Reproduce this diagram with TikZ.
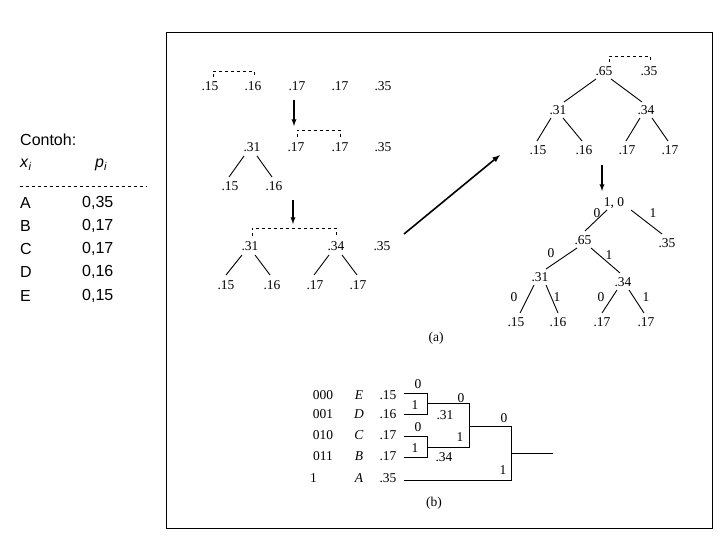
\documentclass[tikz,border=0pt]{standalone}
\usepackage{fontspec}
\setmainfont{Liberation Serif}
\newfontfamily\sans{Liberation Sans}
\begin{document}
\begin{tikzpicture}[x=1pt,y=-1pt,
  num/.style={inner sep=0pt,font=\fontsize{13.5}{13.5}\selectfont},
  sl/.style={font=\fontsize{16}{16}\sans,inner sep=0pt,anchor=west},
  br/.style={dashed,thin},
  ed/.style={line width=0.9pt},
  dn/.style={line width=1.3pt,-latex},
  wire/.style={line width=0.8pt}]
\useasboundingbox (0,0) rectangle (720,540);
\draw[line width=1pt] (166,33) rectangle (712,528);
% left text
\node[sl] (c) at (20,140) {Contoh:};
\node[sl] (xi) at (20,165) {\textit{x}\textsubscript{\textit{i}}};
\node[sl] (pi) at (95,165) {\textit{p}\textsubscript{\textit{i}}};
\draw[dashed] (20,186) -- (147,186);
\foreach \l/\v/\y in {A/{0,35}/203,B/{0,17}/226,C/{0,17}/249,D/{0,16}/272,E/{0,15}/296}{
  \node[sl] at (20,\y) {\l};
  \node[sl] at (82,\y) {\v};
}
% step 1
\node[num] (a1) at (210,86) {.15};
\node[num] (a2) at (253,86) {.16};
\node[num] (a3) at (297,86) {.17};
\node[num] (a4) at (340,86) {.17};
\node[num] (a5) at (383,86) {.35};
\draw[br] (213,77) -- (213,71) -- (254,71) -- (254,77);
\coordinate (r1s) at (294,100); \coordinate (r1e) at (294,126);
\draw[dn] (r1s) -- (r1e);
% step 2
\node[num] (b1) at (252,147) {.31};
\node[num] (b2) at (296,147) {.17};
\node[num] (b3) at (340,147) {.17};
\node[num] (b4) at (383,147) {.35};
\node[num] (b5) at (230,186) {.15};
\node[num] (b6) at (274,186) {.16};
\draw[br] (297,137) -- (297,130) -- (340,130) -- (340,137);
\draw[ed] (244,156) -- (229,177);
\draw[ed] (257,156) -- (272,177);
\draw[dn] (293,200) -- (293,224);
% step 3
\node[num] (c1) at (250,246) {.31};
\node[num] (c2) at (336,246) {.34};
\node[num] (c3) at (382,246) {.35};
\node[num] (c4) at (226,285) {.15};
\node[num] (c5) at (272,285) {.16};
\node[num] (c6) at (315,285) {.17};
\node[num] (c7) at (358,285) {.17};
\draw[br] (252,236) -- (252,228) -- (336,228) -- (336,236);
\draw[ed] (242,255) -- (226,275);
\draw[ed] (255,255) -- (270,275);
\draw[ed] (329,255) -- (314,275);
\draw[ed] (342,255) -- (357,275);
\draw[line width=1.6pt,-latex] (404,234) -- (500,155);
% step 4
\node[num] (d1) at (604,71) {.65};
\node[num] (d2) at (649,71) {.35};
\draw[br] (609,62) -- (609,56) -- (650,56) -- (650,62);
\node[num] (d3) at (558,110) {.31};
\node[num] (d4) at (646,110) {.34};
\foreach \x/\t in {538/.15,584/.16,627/.17,670/.17}{\node[num] at (\x,150) {\t};}
\draw[ed] (596,79) -- (564,102);
\draw[ed] (611,79) -- (642,102);
\draw[ed] (551,118) -- (537,141);
\draw[ed] (563,118) -- (582,141);
\draw[ed] (640,118) -- (626,141);
\draw[ed] (652,118) -- (668,141);
\draw[dn] (602,165) -- (602,191);
% final tree
\node[num] (e0) at (614,203) {1, 0};
\node[num] (e1) at (583,240) {.65};
\node[num] (e2) at (667,243) {.35};
\node[num] (e3) at (540,277) {.31};
\node[num] (e4) at (623,282) {.34};
\foreach \x/\t in {516/.15,558/.16,602/.17,646/.17}{\node[num] at (\x,322) {\t};}
\draw[ed] (607,210) -- (585,231);
\draw[ed] (631,210) -- (662,234);
\draw[ed] (577,248) -- (546,269);
\draw[ed] (591,248) -- (620,273);
\draw[ed] (534,285) -- (520,313);
\draw[ed] (546,285) -- (558,313);
\draw[ed] (617,290) -- (602,313);
\draw[ed] (629,290) -- (644,313);
\foreach \x/\y/\t in {597/213/0,653/213/1,551/253/0,609/255/1,514/297/0,557/297/1,601/297/0,646/297/1}{\node[num] at (\x,\y) {\t};}
\node[num] (la) at (436,338) {(a)};
% (b)
\foreach \c/\l/\v/\y in {000/E/.15/395,001/D/.16/414,010/C/.17/435,011/B/.17/456}{
  \node[num] at (323,\y) {\c};
  \node[num] at (359,\y) {\textit{\l}};
  \node[num] at (388,\y) {\v};
}
\node[num,anchor=west] at (310,478) {1};
\node[num] at (359,478) {\textit{A}};
\node[num] at (388,478) {.35};
\draw[wire] (404,393) -- (427,393) -- (427,414) -- (404,414);
\draw[wire] (404,436) -- (427,436) -- (427,457) -- (404,457);
\draw[wire] (427,403) -- (469,403) -- (469,447) -- (427,447);
\draw[wire] (469,426) -- (511,426) -- (511,480) -- (404,480);
\draw[wire] (511,453) -- (553,453);
\foreach \x/\y/\t in {418/384/0,415/405/1,445/415/.31,461/398/0,418/427/0,415/448/1,444/457/.34,460/437/1,504/418/0,503/470/1}{\node[num] at (\x,\y) {\t};}
\node[num] (lb) at (434,503) {(b)};
\end{tikzpicture}
\end{document}
